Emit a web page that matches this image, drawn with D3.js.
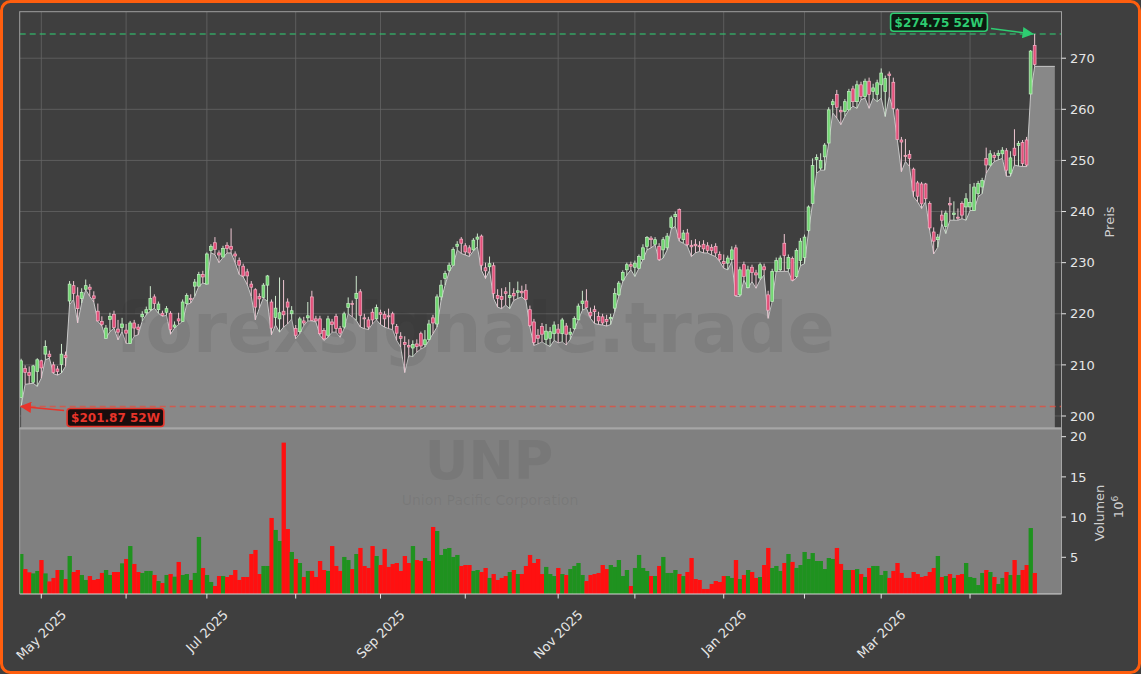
<!DOCTYPE html>
<html><head><meta charset="utf-8">
<script src="https://cdn.jsdelivr.net/npm/d3@7"></script>
<style>
html,body{margin:0;padding:0;background:#3f3f3f;overflow:hidden;}
svg{display:block;}
text{font-family:"DejaVu Sans",sans-serif;}
</style></head><body>
<svg id="c" width="1141" height="674"></svg>
<script>
// ---------------- DATA ----------------
const startDate = "2025-04-24";
const endDate = "2026-04-24";
const holidays = ["2025-05-26","2025-06-19","2025-07-04","2025-09-01","2025-11-27","2025-12-25","2026-01-01","2026-01-19","2026-02-16","2026-04-03"];

const open = [203.6,209.3,208.5,206.6,208.7,210.8,212.1,212.1,210.0,209.2,210.1,211.9,222.5,225.5,223.5,223.0,224.8,225.2,223.5,220.5,
218.5,215.2,218.9,219.9,217.0,217.3,216.8,214.2,218.2,217.4,219.4,220.2,220.8,223.3,220.8,220.1,220.3,220.1,217.4,219.0,
218.5,222.0,223.0,225.4,225.4,227.7,225.8,232.4,233.9,231.9,231.1,233.4,233.2,231.7,230.4,229.3,228.2,225.8,224.7,223.4,
223.2,225.6,222.3,219.3,219.0,220.5,222.3,220.0,217.1,216.5,218.6,219.2,223.3,219.0,219.0,216.7,215.8,218.4,219.5,217.1,
217.4,221.2,222.0,223.0,224.3,219.2,218.8,220.3,219.0,220.2,219.9,219.6,220.0,217.5,215.6,214.4,213.8,213.3,214.1,216.1,
214.0,215.0,219.2,218.0,223.3,226.9,228.5,229.5,233.2,234.6,233.3,232.9,232.5,234.6,235.2,229.0,229.2,229.4,223.6,223.4,
224.3,223.2,224.0,224.2,224.4,224.6,220.8,218.4,215.8,217.5,215.0,215.2,216.1,217.0,216.1,217.6,216.0,217.1,218.8,222.0,
222.5,220.3,220.8,219.5,219.4,218.9,219.0,221.1,223.7,226.6,228.6,229.6,229.1,228.9,230.6,233.2,234.8,233.6,233.2,232.5,
232.9,236.9,239.0,240.4,234.5,235.8,233.4,233.6,233.3,233.6,233.3,233.0,233.2,231.6,230.2,229.9,230.6,232.9,223.7,229.6,
225.1,229.1,228.0,227.0,229.2,223.7,222.4,228.3,228.6,233.8,228.8,230.8,227.3,230.4,231.0,236.3,241.6,250.2,248.5,250.7,
253.4,260.9,262.9,259.8,259.6,259.9,264.0,261.5,264.8,262.5,265.5,263.5,262.9,264.8,263.5,266.9,265.3,259.9,254.0,251.0,
251.2,248.3,245.6,245.4,245.4,241.6,236.0,234.5,239.3,237.1,241.6,239.4,238.9,241.6,240.9,240.9,240.2,243.5,244.8,250.4,
249.1,251.0,251.0,251.3,251.9,247.5,252.4,252.9,253.5,254.0,263.0,272.5];

const high = [211.2,209.9,209.7,210.0,211.3,211.0,214.8,212.8,210.6,209.8,214.1,212.6,226.4,226.4,225.2,225.0,226.7,225.8,224.4,222.0,
219.5,217.8,220.2,220.6,218.8,219.2,218.0,218.6,218.8,218.0,220.5,221.4,225.4,223.8,222.4,220.6,221.5,220.5,218.5,220.2,
222.8,224.0,223.8,226.8,228.2,228.4,232.0,233.6,235.0,232.4,233.3,234.0,236.7,232.2,231.0,229.8,228.8,226.4,225.0,224.0,
226.0,227.6,222.8,223.5,227.1,226.6,223.0,221.5,217.8,219.4,219.4,222.3,224.5,219.6,219.6,217.2,219.6,219.0,220.0,217.6,
220.4,223.2,222.6,227.4,224.8,220.0,219.4,221.0,221.8,220.8,220.5,221.0,220.4,218.0,216.4,215.6,215.0,214.8,215.0,216.5,
216.8,218.8,219.8,223.8,226.6,228.4,230.0,233.0,234.2,235.0,233.8,233.4,234.8,235.7,235.5,230.0,231.2,230.0,224.8,225.0,
225.2,226.2,225.0,226.3,225.5,225.8,221.6,219.0,217.0,218.2,218.0,217.4,218.5,218.0,219.2,218.2,217.2,219.5,222.0,224.5,
224.8,221.2,221.6,220.4,220.0,219.8,220.0,225.0,226.4,228.5,230.0,230.2,230.4,231.6,233.6,235.2,235.2,235.0,233.8,235.0,
235.8,239.2,240.0,240.6,236.4,236.6,234.4,234.6,234.2,234.4,234.0,233.6,233.8,232.2,231.6,231.4,233.2,233.5,229.2,230.2,
229.4,229.6,228.6,230.0,229.8,224.5,228.8,231.0,231.4,235.6,231.6,231.2,232.8,234.8,235.5,241.2,250.4,251.2,251.4,253.4,
260.4,262.0,263.8,260.6,262.0,264.0,264.6,265.6,265.4,266.0,266.2,265.0,265.8,268.0,266.6,267.4,266.2,260.2,254.6,254.2,
252.0,248.6,246.0,245.8,245.6,242.0,236.9,235.6,240.2,240.2,242.8,242.0,240.6,242.0,243.6,245.4,245.6,246.0,246.6,252.5,
252.0,251.6,252.0,252.6,252.4,251.8,256.1,253.8,254.0,254.6,271.6,274.75];

const low = [201.87,206.2,206.3,206.4,205.8,207.4,211.0,211.3,208.3,208.0,208.4,209.7,221.8,222.8,218.2,222.1,224.7,223.4,222.3,218.5,
217.6,215.2,216.5,217.2,214.9,216.5,214.2,214.2,215.6,215.9,218.6,219.8,220.5,221.1,220.1,219.5,219.7,216.0,217.2,217.9,
218.5,221.8,222.1,223.4,225.4,226.0,225.8,231.9,231.6,230.0,231.0,231.9,231.9,230.0,227.7,227.2,225.7,223.4,218.8,221.1,
223.1,222.4,215.9,217.8,216.4,217.4,218.0,219.0,215.1,216.1,217.7,218.6,218.6,218.4,215.8,214.8,215.4,216.4,216.4,215.4,
217.1,220.0,219.4,218.7,217.4,217.1,216.9,218.0,218.8,217.9,217.4,217.1,216.9,214.8,213.5,208.5,211.8,211.6,212.5,213.1,
213.5,214.8,216.1,217.4,222.6,225.6,228.2,229.5,232.5,231.8,231.5,231.2,232.3,233.1,228.5,226.9,228.5,223.0,221.3,221.0,
221.7,221.0,222.6,223.0,223.3,222.6,217.4,213.8,214.1,214.5,214.0,213.6,214.8,214.3,214.5,213.9,215.0,216.8,218.8,220.7,
221.1,219.1,218.1,217.9,217.8,217.6,217.9,220.4,223.4,226.3,227.6,228.6,227.3,228.9,230.6,232.5,232.9,233.5,230.4,230.9,
232.5,236.6,237.1,234.2,233.8,233.2,231.2,231.9,232.2,231.9,231.9,231.5,231.2,230.2,228.9,228.6,230.2,223.4,223.4,226.6,
225.0,226.3,225.0,226.6,227.6,219.1,222.4,228.3,228.3,228.3,228.3,226.4,227.0,229.4,229.8,236.0,241.6,247.5,248.1,248.1,
253.4,259.3,258.3,257.0,258.6,259.9,260.6,260.2,261.9,262.2,260.2,262.2,261.5,262.2,258.6,262.5,259.9,254.0,247.8,249.8,
248.8,242.9,241.9,240.6,241.9,236.3,231.7,233.0,237.6,235.7,238.3,238.3,238.3,238.6,238.3,240.2,240.2,242.9,243.5,247.5,
248.8,249.8,250.1,250.4,246.9,246.9,249.1,248.9,248.8,248.8,262.9,268.4];

const close = [210.8,208.5,207.9,209.8,211.0,209.4,213.6,211.6,208.5,208.7,212.1,211.4,225.8,224.0,221.0,224.2,225.5,224.8,223.0,218.6,
217.9,217.2,219.5,217.3,216.4,218.0,216.2,218.2,217.2,216.9,219.9,220.8,223.0,222.0,221.9,219.7,221.0,216.9,217.8,218.6,
222.3,223.6,222.8,226.2,227.7,227.2,231.7,233.2,232.6,231.5,232.8,232.8,232.6,231.3,229.5,227.4,227.4,225.2,221.3,222.9,
225.6,227.4,217.2,221.1,220.2,219.8,221.3,220.6,215.8,219.0,218.2,219.6,218.7,218.6,216.1,215.1,219.0,217.9,217.1,216.2,
220.0,222.0,221.8,224.0,219.7,219.0,217.4,218.8,221.2,219.9,219.0,219.4,218.0,216.2,215.2,214.0,213.5,214.0,213.6,213.7,
214.9,218.0,218.2,223.3,225.6,227.9,229.5,232.6,233.6,233.8,232.1,231.9,234.4,235.0,229.5,228.4,229.8,224.0,223.0,222.8,
224.0,223.6,223.5,224.5,224.1,222.8,217.7,214.4,215.2,216.0,216.6,216.5,217.8,216.2,218.8,216.0,216.4,219.1,221.5,222.5,
221.2,219.6,220.4,218.6,218.2,218.5,219.3,224.0,226.0,228.1,229.6,229.3,229.9,231.2,232.9,234.9,234.5,234.5,230.6,234.5,
235.2,238.8,239.4,234.8,235.8,233.5,233.1,233.3,233.2,232.7,232.4,232.4,231.9,230.6,229.8,230.9,232.5,223.6,228.6,227.3,
228.6,228.1,227.6,229.6,228.6,220.7,228.3,230.4,230.9,231.4,231.0,226.6,232.4,234.2,235.0,240.9,249.0,250.6,250.0,253.0,
259.9,261.5,260.4,259.5,261.5,263.5,261.5,264.8,262.5,265.5,262.9,264.2,265.2,267.1,266.0,266.6,260.2,254.1,253.6,250.8,
250.4,244.0,243.0,241.5,242.5,236.8,234.2,235.0,238.3,239.7,241.3,239.7,238.7,239.3,242.5,241.8,244.8,245.5,246.1,249.1,
251.3,250.6,251.4,252.0,248.1,250.5,251.0,253.3,249.4,249.1,271.4,268.8];

// volume in millions of shares
const volume = [5.41,3.54,3.13,3.0,3.3,4.66,3.0,2.0,2.43,3.42,3.42,2.3,5.16,3.17,3.42,2.8,2.18,2.67,2.18,2.3,
3.05,3.42,2.8,3.17,3.17,4.25,4.79,6.4,4.17,3.17,3.05,3.3,3.3,2.8,2.05,1.8,2.8,2.92,2.59,4.42,
2.8,2.92,2.18,3.05,7.53,3.67,2.8,1.93,1.43,2.67,2.67,2.55,2.8,3.42,2.18,2.55,2.55,5.41,5.91,2.92,
3.92,3.92,9.89,8.4,7.03,19.26,8.52,5.66,4.79,4.29,2.55,3.3,3.3,2.55,4.54,3.42,3.3,6.4,3.92,3.3,
5.04,4.66,3.54,5.41,6.16,3.92,3.67,6.4,5.16,4.04,6.04,3.8,4.17,4.29,3.3,5.16,4.29,6.4,4.66,4.54,
4.91,4.54,8.77,8.27,5.29,6.04,6.16,5.04,5.29,3.92,4.04,4.04,3.3,3.42,3.17,3.67,2.43,2.92,2.18,2.43,
2.67,3.17,3.42,2.92,2.92,3.92,5.29,4.29,4.79,2.92,3.8,2.92,2.67,3.67,2.92,2.8,3.54,3.92,4.29,2.8,
2.05,2.8,2.92,3.05,4.04,3.54,4.04,3.8,4.66,2.67,3.42,1.43,3.67,5.29,3.67,3.3,2.67,2.67,3.92,5.04,
3.05,3.05,3.42,2.92,2.67,3.17,4.91,2.3,2.18,1.06,1.06,1.68,2.05,1.93,2.67,2.67,2.43,4.66,2.3,2.8,
3.42,3.17,2.43,2.55,4.04,6.16,3.67,3.92,3.3,4.29,5.41,4.42,3.67,4.04,5.66,4.79,5.53,4.54,4.54,3.54,
4.91,4.79,6.16,4.17,3.42,3.42,3.42,3.54,2.92,2.55,3.67,3.92,3.92,2.8,3.3,2.43,3.3,4.29,3.05,2.43,
2.43,3.17,2.92,2.55,2.67,3.17,3.67,5.16,2.55,2.67,2.92,2.43,2.8,2.92,4.29,2.55,2.43,1.55,3.05,3.42,
3.17,2.55,1.68,2.43,3.17,2.8,4.66,2.8,3.42,4.04,8.64,3.05];

const monthTicks = ["2025-05","2025-06","2025-07","2025-08","2025-09","2025-10","2025-11","2025-12","2026-01","2026-02","2026-03","2026-04"];
const monthTickLabels = ["May 2025","","Jul 2025","","Sep 2025","","Nov 2025","","Jan 2026","","Mar 2026",""];
const priceTicks = [200,210,220,230,240,250,260,270];
const volumeTicks = [5,10,15,20];
const high52w = 274.75, low52w = 201.87;
const high52Label = "$274.75 52W", low52Label = "$201.87 52W";
const watermark = "forexsignale.trade";
const tickerName = "UNP", companyName = "Union Pacific Corporation";
const priceLabel = "Preis", volumeLabel = "Volumen";

// ---------------- BUILD TRADING DAYS ----------------
const fmt = d3.utcFormat("%Y-%m-%d");
const days = [];
for (let d = new Date(startDate + "T00:00:00Z"); fmt(d) <= endDate; d = new Date(d.getTime() + 86400000)) {
  const wd = d.getUTCDay();
  if (wd === 0 || wd === 6) continue;
  if (holidays.includes(fmt(d))) continue;
  days.push(fmt(d));
}
const tickIdx = monthTicks.map(m => days.findIndex(s => s.startsWith(m)));

// ---------------- LAYOUT ----------------
const W = 1141, H = 674;
const L = 19.7, R = 1061.5;
const pTop = 11.7, pBot = 428, vTop = 428, vBot = 594;

const svg = d3.select("#c");
svg.append("rect").attr("x",1.5).attr("y",1.5).attr("width",W-3).attr("height",H-3)
  .attr("rx",9).attr("fill","#3f3f3f").attr("stroke","#ff5e0e").attr("stroke-width",3);

const x = d3.scaleLinear().domain([-0.35, 257.65]).range([L, R]);
const y = d3.scaleLinear().domain([197.65, 279.1]).range([pBot, pTop]);
const yv = d3.scaleLinear().domain([0.435, 21.08]).range([vBot, vTop]);
const step = x(1) - x(0);

const defs = svg.append("defs");
defs.append("clipPath").attr("id","pclip").append("rect").attr("x",L).attr("y",pTop).attr("width",R-L).attr("height",pBot-pTop);
defs.append("clipPath").attr("id","vclip").append("rect").attr("x",L).attr("y",vTop).attr("width",R-L).attr("height",vBot-vTop);

// price panel background
svg.append("rect").attr("x",L).attr("y",pTop).attr("width",R-L).attr("height",pBot-pTop).attr("fill","#3f3f3f");

const pg = svg.append("g").attr("clip-path","url(#pclip)");
// grid
pg.selectAll("line.hg").data(priceTicks).join("line")
  .attr("x1",L).attr("x2",R).attr("y1",d=>y(d)).attr("y2",d=>y(d))
  .attr("stroke","#646464").attr("stroke-width",0.8);
pg.selectAll("line.vg").data(tickIdx).join("line")
  .attr("x1",d=>x(d)).attr("x2",d=>x(d)).attr("y1",pTop).attr("y2",pBot)
  .attr("stroke","#646464").attr("stroke-width",0.8);

// area under lows (extended with the last value)
const areaIdx = d3.range(low.length).concat([256]);
const lowAt = i => low[Math.min(i, low.length-1)];
pg.append("path").datum(areaIdx)
  .attr("d", d3.area().x(i=>x(i)).y0(pBot).y1(i=>y(lowAt(i))))
  .attr("fill","#888888");
pg.append("path").datum(areaIdx)
  .attr("d", d3.line().x(i=>x(i)).y(i=>y(lowAt(i))))
  .attr("fill","none").attr("stroke","#c8c8c8").attr("stroke-width",1);

// watermark
pg.append("text").attr("x",475).attr("y",352).attr("text-anchor","middle")
  .attr("font-size",69).attr("font-weight","bold").attr("fill","#2a2a2a").attr("fill-opacity",0.1)
  .text(watermark);

// 52w lines
pg.append("line").attr("x1",L).attr("x2",R).attr("y1",y(high52w)).attr("y2",y(high52w))
  .attr("stroke","#2ecc71").attr("stroke-opacity",0.7).attr("stroke-width",1.6).attr("stroke-dasharray","6,4");
pg.append("line").attr("x1",L).attr("x2",R).attr("y1",y(low52w)).attr("y2",y(low52w))
  .attr("stroke","#e74c3c").attr("stroke-opacity",0.75).attr("stroke-width",1.6).attr("stroke-dasharray","6,4");

// candles
const idx = d3.range(close.length);
const up = i => close[i] >= open[i];
const cg = pg.append("g");
cg.selectAll("line").data(idx).join("line")
  .attr("x1",i=>x(i)).attr("x2",i=>x(i)).attr("y1",i=>y(high[i])).attr("y2",i=>y(low[i]))
  .attr("stroke",i=>up(i)?"#cde8cd":"#eec6d2").attr("stroke-width",1);
const bw = step*0.7;
cg.selectAll("rect").data(idx).join("rect")
  .attr("x",i=>x(i)-bw/2).attr("width",bw)
  .attr("y",i=>y(Math.max(open[i],close[i])))
  .attr("height",i=>Math.max(1, Math.abs(y(open[i])-y(close[i]))))
  .attr("fill",i=>up(i)?"#72d672":"#e2507a")
  .attr("stroke",i=>up(i)?"#c4efc4":"#f4b3c6").attr("stroke-width",0.7);

// price panel frame
svg.append("rect").attr("x",L).attr("y",pTop).attr("width",R-L).attr("height",pBot-pTop)
  .attr("fill","none").attr("stroke","#a0a0a0").attr("stroke-width",1);

// ---------------- VOLUME PANEL ----------------
svg.append("rect").attr("x",L).attr("y",vTop).attr("width",R-L).attr("height",vBot-vTop).attr("fill","#808080");
const vg = svg.append("g").attr("clip-path","url(#vclip)");
vg.append("text").attr("x",489).attr("y",479).attr("text-anchor","middle")
  .attr("font-size",54).attr("font-weight","bold").attr("fill","#404040").attr("fill-opacity",0.12).text(tickerName);
vg.append("text").attr("x",490).attr("y",505).attr("text-anchor","middle")
  .attr("font-size",14).attr("fill","#404040").attr("fill-opacity",0.12).text(companyName);
vg.selectAll("rect.vb").data(idx).join("rect")
  .attr("x",i=>x(i)-step/2).attr("width",step+0.3)
  .attr("y",i=>yv(volume[i])).attr("height",i=>vBot-yv(volume[i]))
  .attr("fill",i=>up(i)?"#1f921f":"#ff1010");
svg.append("line").attr("x1",L).attr("x2",R).attr("y1",vTop+0.5).attr("y2",vTop+0.5).attr("stroke","#a6a6a6").attr("stroke-width",2);
svg.append("line").attr("x1",L).attr("x2",R).attr("y1",vBot).attr("y2",vBot).attr("stroke","#d8d8d8").attr("stroke-width",1);
svg.append("line").attr("x1",R).attr("x2",R).attr("y1",vTop).attr("y2",vBot).attr("stroke","#a6a6a6").attr("stroke-width",1);
svg.append("line").attr("x1",L).attr("x2",L).attr("y1",vTop).attr("y2",vBot).attr("stroke","#a6a6a6").attr("stroke-width",1);

// ---------------- AXES ----------------
const tcol = "#e6e6e6";
const pa = svg.append("g");
priceTicks.forEach(t => {
  pa.append("line").attr("x1",R).attr("x2",R+4.5).attr("y1",y(t)).attr("y2",y(t)).attr("stroke",tcol).attr("stroke-width",1);
  pa.append("text").attr("x",R+8.5).attr("y",y(t)).attr("dy","0.36em").attr("font-size",13).attr("fill",tcol).text(t);
});
volumeTicks.forEach(t => {
  pa.append("line").attr("x1",R).attr("x2",R+4.5).attr("y1",yv(t)).attr("y2",yv(t)).attr("stroke",tcol).attr("stroke-width",1);
  pa.append("text").attr("x",R+8.5).attr("y",yv(t)).attr("dy","0.36em").attr("font-size",13).attr("fill",tcol).text(t);
});
pa.append("text").attr("transform","translate(1114,222) rotate(-90)").attr("text-anchor","middle")
  .attr("font-size",13).attr("fill","#cfcfcf").text(priceLabel);
pa.append("text").attr("transform","translate(1104,513) rotate(-90)").attr("text-anchor","middle")
  .attr("font-size",13).attr("fill","#cfcfcf").text(volumeLabel);
const off = pa.append("text").attr("transform","translate(1123,507) rotate(-90)").attr("text-anchor","middle")
  .attr("font-size",13).attr("fill","#cfcfcf");
off.append("tspan").text("10");
off.append("tspan").attr("font-size",9).attr("dy",-5).text("6");

// x ticks
tickIdx.forEach((ti, k) => {
  const tx = x(ti);
  pa.append("line").attr("x1",tx).attr("x2",tx).attr("y1",vBot).attr("y2",vBot+4.5).attr("stroke",tcol).attr("stroke-width",1);
  const lab = monthTickLabels[k];
  if (!lab) return;
  const t = pa.append("text").attr("font-size",13).attr("fill",tcol).attr("text-anchor","middle").attr("dy","0.35em").text(lab);
  const w = t.node().getComputedTextLength();
  const bh = (w + 15) * Math.SQRT1_2;
  t.attr("transform", `translate(${tx},${vBot + 13 + bh/2}) rotate(-45)`);
});

// ---------------- ANNOTATIONS ----------------
defs.append("marker").attr("id","ag").attr("viewBox","0 0 10 10").attr("refX",9).attr("refY",5)
  .attr("markerWidth",7).attr("markerHeight",7).attr("orient","auto")
  .append("path").attr("d","M0,0 L10,5 L0,10 z").attr("fill","#2ecc71");
defs.append("marker").attr("id","ar").attr("viewBox","0 0 10 10").attr("refX",9).attr("refY",5)
  .attr("markerWidth",7).attr("markerHeight",7).attr("orient","auto")
  .append("path").attr("d","M0,0 L10,5 L0,10 z").attr("fill","#e8342a");

function label(cx, cy, txt, col, fillCol) {
  const g = svg.append("g");
  const t = g.append("text").attr("x",cx).attr("y",cy).attr("dy","0.36em").attr("text-anchor","middle")
    .attr("font-size",12).attr("font-weight","bold").attr("fill",col).text(txt);
  const w = t.node().getComputedTextLength();
  g.insert("rect","text").attr("x",cx-w/2-4).attr("y",cy-9).attr("width",w+8).attr("height",18).attr("rx",3)
    .attr("fill",fillCol).attr("stroke",col).attr("stroke-width",1.6);
}
svg.append("line").attr("x1",991).attr("y1",28.5).attr("x2",x(250.5)).attr("y2",y(high52w))
  .attr("stroke","#2ecc71").attr("stroke-width",1.6).attr("marker-end","url(#ag)");
label(939, 22.3, high52Label, "#2ecc71", "#0d1a10");
svg.append("line").attr("x1",64).attr("y1",410.5).attr("x2",x(0)).attr("y2",y(low52w))
  .attr("stroke","#e8342a").attr("stroke-width",1.6).attr("marker-end","url(#ar)");
label(115.5, 417.5, low52Label, "#e8342a", "#1a0d0d");
</script>
</body></html>
